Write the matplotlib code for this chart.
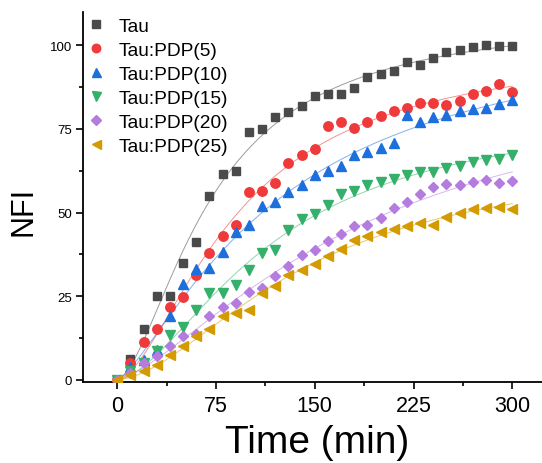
import numpy as np
import matplotlib
matplotlib.use("Agg")
import matplotlib.pyplot as plt
from matplotlib.ticker import MultipleLocator

plt.rcParams['font.family'] = ['Liberation Sans', 'DejaVu Sans']

# time points (min)
time = np.arange(0, 301, 10)

tau = [0, 6.1, 15.0, 25.1, 25.1, 35.0, 41.1, 54.9, 61.4, 62.5, 74.2, 75.1, 78.7,
       80.0, 81.8, 85.0, 85.5, 85.4, 87.3, 90.5, 91.5, 92.4, 95.0, 94.1, 96.2,
       97.9, 98.6, 99.4, 100.0, 99.9, 99.9]
pdp5 = [0, 4.9, 11.3, 15.1, 21.7, 24.6, 31.2, 37.9, 42.9, 46.2, 56.1, 56.4, 58.8,
        64.7, 67.2, 69.0, 76.0, 77.2, 75.2, 77.2, 78.9, 80.4, 81.4, 82.7, 82.9,
        82.1, 83.4, 85.5, 86.4, 88.4, 86.1]
pdp10 = [0, 3.8, 6.0, 8.9, 19.1, 28.7, 33.2, 33.4, 38.1, 44.1, 46.2, 51.8, 53.0,
         56.0, 58.3, 61.3, 62.5, 64.0, 67.2, 68.0, 69.3, 70.8, 79.2, 77.0, 78.5,
         79.1, 80.4, 80.9, 81.4, 82.4, 83.6]
pdp15 = [0, 2.5, 5.0, 8.5, 13.4, 15.8, 20.7, 25.9, 25.9, 28.2, 32.8, 37.8, 38.8,
         44.8, 48.2, 49.6, 52.3, 55.6, 56.5, 58.2, 59.0, 60.0, 61.2, 62.2, 62.2,
         63.2, 64.0, 65.2, 65.7, 66.0, 67.2]
pdp20 = [0, 2.0, 5.1, 7.0, 10.0, 13.1, 13.7, 18.9, 21.7, 23.0, 26.3, 27.4, 31.0,
         33.9, 37.2, 38.9, 41.5, 43.6, 46.1, 46.4, 48.3, 51.3, 53.2, 55.6, 57.6,
         58.5, 58.2, 59.0, 59.7, 58.8, 59.5]
pdp25 = [0, 1.5, 2.5, 4.3, 7.3, 10.0, 13.1, 15.0, 19.0, 20.0, 20.8, 25.8, 28.0,
         31.2, 32.7, 34.5, 37.1, 39.1, 41.8, 43.1, 44.1, 45.2, 45.9, 46.9, 46.2,
         48.6, 49.9, 51.1, 51.3, 51.6, 51.1]

names = ["Tau", "Tau:PDP(5)", "Tau:PDP(10)", "Tau:PDP(15)", "Tau:PDP(20)", "Tau:PDP(25)"]
series = [tau, pdp5, pdp10, pdp15, pdp20, pdp25]
colors = ['#4a4a4a', '#ee3a3a', '#1d6fdc', '#35b06a', '#b57ce0', '#d39b00']
markers = ['s', 'o', '^', 'v', 'D', '<']
sizes = [6, 6.8, 7.2, 7.2, 5.6, 7.2]


def hill_fit(x, y):
    # y = A * t^n / (k^n + t^n); grid over k, n, A by least squares
    x = np.asarray(x, float)
    y = np.asarray(y, float)
    best = None
    for k in np.linspace(20, 400, 191):
        for n in np.linspace(0.8, 3.0, 111):
            s = x ** n / (k ** n + x ** n)
            a = np.dot(s, y) / np.dot(s, s)
            err = np.sum((a * s - y) ** 2)
            if best is None or err < best[0]:
                best = (err, k, n, a)
    _, k, n, a = best
    return lambda t: a * t ** n / (k ** n + t ** n)


fig = plt.figure(figsize=(5.42, 4.64), dpi=100)
ax = fig.add_axes([0.153, 0.174, 0.847, 0.798])

tt = np.linspace(0, 300, 400)
for y, name, c, m, ms in zip(series, names, colors, markers, sizes):
    f = hill_fit(time, y)
    ax.plot(tt, f(tt), color=c, lw=0.7, alpha=0.55, zorder=2)
    ax.plot(time, y, ls='none', marker=m, ms=ms, color=c, mec=c,
            label=name, zorder=3)

ax.set_xlim(-26, 322.5)
ax.set_ylim(-0.8, 110)
ax.xaxis.set_major_locator(MultipleLocator(75))
ax.xaxis.set_minor_locator(MultipleLocator(37.5))
ax.yaxis.set_major_locator(MultipleLocator(25))
ax.yaxis.set_minor_locator(MultipleLocator(12.5))

for side in ['top', 'right']:
    ax.spines[side].set_visible(False)
for side in ['left', 'bottom']:
    ax.spines[side].set_linewidth(1.3)

ax.tick_params(axis='both', which='major', direction='out', length=5, width=1.2)
ax.tick_params(axis='both', which='minor', direction='out', length=3, width=1.2)
ax.tick_params(axis='x', labelsize=15.5, pad=4)
ax.tick_params(axis='y', labelsize=9.5, pad=3)

ax.set_xlabel('Time (min)', fontsize=28)
ax.xaxis.set_label_coords(0.51, -0.112)
ax.set_ylabel('NFI', fontsize=22)
ax.yaxis.set_label_coords(-0.097, 0.465)

ax.legend(loc='upper left', bbox_to_anchor=(-0.005, 0.995), frameon=False,
          fontsize=13.8, handletextpad=0.6, labelspacing=0.34,
          borderaxespad=0.0, borderpad=0.2, handlelength=1.2, markerscale=0.9)

fig.savefig('out.png', dpi=100)
